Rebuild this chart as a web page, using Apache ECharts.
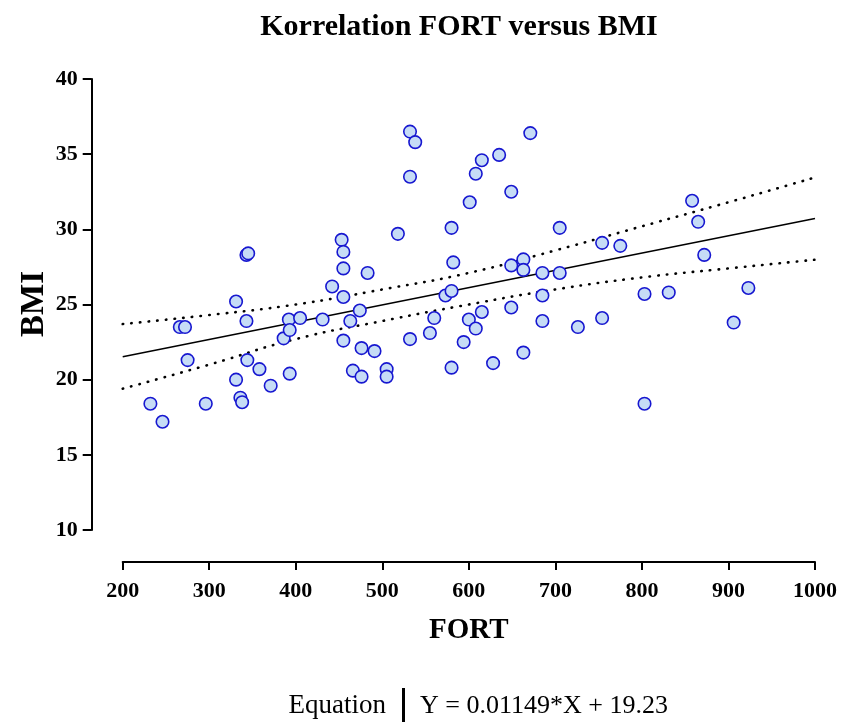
<!DOCTYPE html>
<html>
<head>
<meta charset="utf-8">
<script src="https://cdn.jsdelivr.net/npm/echarts@6/dist/echarts.min.js"></script>
<style>
  html, body { margin: 0; padding: 0; background: #ffffff; }
  #chart { width: 841px; height: 722px; }
</style>
</head>
<body>
<div id="chart"></div>
<script>
// FORT (x) and BMI (y) for each subject
const fortValues = [232, 246, 266, 272, 275, 296, 331, 331, 336, 338, 343, 345, 343, 344, 358, 371, 386, 392, 393, 393,
  405, 431, 442, 453, 455, 455, 455, 455, 463, 466, 474, 476, 476, 483, 491, 505, 505, 518, 532, 538,
  532, 532, 555, 560, 573, 580, 580, 582, 580, 594, 600, 601, 608, 608, 615, 615, 628, 635, 649, 649,
  649, 663, 663, 663, 671, 685, 685, 685, 705, 705, 726, 754, 754, 775, 803, 803, 831, 858, 865, 872,
  906, 923];
const bmiValues = [18.4, 17.2, 23.5, 23.5, 21.3, 18.4, 25.2, 20.0, 18.8, 18.5, 28.3, 28.4, 23.9, 21.3, 20.7, 19.6, 22.75, 24.0, 23.3, 20.4,
  24.1, 24.0, 26.2, 29.3, 28.5, 27.4, 25.5, 22.6, 23.9, 20.6, 24.6, 22.1, 20.2, 27.1, 21.9, 20.7, 20.2, 29.7, 36.5, 35.8,
  33.5, 22.7, 23.1, 24.1, 25.6, 25.9, 30.1, 27.8, 20.8, 22.5, 24.0, 31.8, 33.7, 23.4, 34.6, 24.5, 21.1, 34.95, 32.5, 27.6,
  24.8, 28.0, 27.3, 21.8, 36.4, 27.1, 25.6, 23.9, 30.1, 27.1, 23.5, 29.1, 24.1, 28.9, 25.7, 18.4, 25.8, 31.9, 30.5, 28.3,
  23.8, 26.1];

// Linear fit, as printed under the chart
const slope = 0.01149;
const intercept = 19.23;
const fitRange = [200, 1000];

// 95% confidence band of the fit
const bandX = [200, 300, 400, 500, 600, 700, 800, 900, 1000];
const bandUpper = [23.7, 24.3, 25.0, 26.0, 27.1, 28.6, 30.2, 31.8, 33.45];
const bandLower = [19.4, 21.0, 22.7, 23.9, 25.0, 26.0, 26.8, 27.4, 27.98];

// Axis ticks
const xTicks = { min: 200, max: 1000, step: 100 };
const yTicks = { min: 10, max: 40, step: 5 };

const FONT = "'Liberation Serif', 'DejaVu Serif', serif";

const points = fortValues.map((x, i) => [x, bmiValues[i]]);
const fitLine = fitRange.map(x => [x, slope * x + intercept]);
const upperLine = bandX.map((x, i) => [x, bandUpper[i]]);
const lowerLine = bandX.map((x, i) => [x, bandLower[i]]);
const equationText = 'Y = ' + slope + '*X + ' + intercept;

const chart = echarts.init(document.getElementById('chart'), null, { renderer: 'canvas' });

const dotted = { color: '#000000', width: 2.6, type: [0.5, 8.2], cap: 'round' };

chart.setOption({
  animation: false,
  backgroundColor: '#ffffff',
  grid: { left: 122.7, right: 26, top: 79, bottom: 192, containLabel: false, outerBoundsMode: 'none' },
  xAxis: {
    type: 'value',
    min: xTicks.min, max: xTicks.max, interval: xTicks.step,
    offset: 32,
    name: 'FORT',
    nameLocation: 'middle',
    nameGap: 54,
    nameTextStyle: { fontFamily: FONT, fontWeight: 'bold', fontSize: 29, color: '#000' },
    axisLine: { show: true, onZero: false, lineStyle: { color: '#000', width: 2 } },
    axisTick: { show: true, inside: false, length: 8, lineStyle: { color: '#000', width: 2 } },
    axisLabel: { margin: 18, fontFamily: FONT, fontWeight: 'bold', fontSize: 22, color: '#000',
      formatter: v => String(v) },
    splitLine: { show: false }
  },
  yAxis: {
    type: 'value',
    min: yTicks.min, max: yTicks.max, interval: yTicks.step,
    offset: 31,
    axisLine: { show: true, onZero: false, lineStyle: { color: '#000', width: 2 } },
    axisTick: { show: true, inside: false, length: 9, lineStyle: { color: '#000', width: 2 } },
    axisLabel: { margin: 14, fontFamily: FONT, fontWeight: 'bold', fontSize: 22, color: '#000',
      formatter: v => String(v) },
    splitLine: { show: false }
  },
  graphic: [
    {
      type: 'text', x: 459, y: 27,
      style: { text: 'Korrelation FORT versus BMI', font: 'bold 30px ' + FONT, fill: '#000',
        align: 'center', verticalAlign: 'middle' }
    },
    {
      // y-axis title, rotated
      type: 'text', x: 34, y: 304, rotation: Math.PI / 2,
      style: { text: 'BMI', font: 'bold 33px ' + FONT, fill: '#000',
        align: 'center', verticalAlign: 'middle' }
    },
    {
      type: 'text', x: 386, y: 706,
      style: { text: 'Equation', font: '27px ' + FONT, fill: '#000', align: 'right', verticalAlign: 'middle' }
    },
    {
      type: 'rect', shape: { x: 402, y: 688, width: 3, height: 34 },
      style: { fill: '#000' }
    },
    {
      type: 'text', x: 420, y: 706,
      style: { text: equationText, font: '26px ' + FONT, fill: '#000', align: 'left', verticalAlign: 'middle' }
    }
  ],
  series: [
    {
      type: 'line', data: upperLine, smooth: true, showSymbol: false, silent: true, z: 2,
      lineStyle: dotted
    },
    {
      type: 'line', data: lowerLine, smooth: true, showSymbol: false, silent: true, z: 2,
      lineStyle: dotted
    },
    {
      type: 'line', data: fitLine, showSymbol: false, silent: true, z: 3,
      lineStyle: { color: '#000000', width: 1.6 }
    },
    {
      type: 'scatter', data: points, symbol: 'circle', symbolSize: 12.5, z: 5,
      itemStyle: { color: '#c6dcf6', borderColor: '#1717d0', borderWidth: 1.6, opacity: 1 }
    }
  ]
});
</script>
</body>
</html>
